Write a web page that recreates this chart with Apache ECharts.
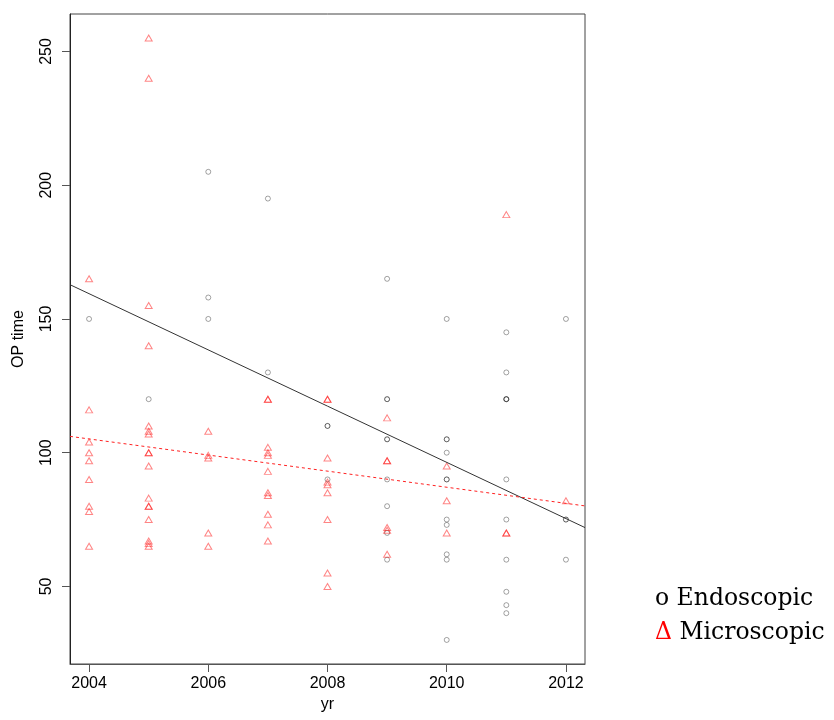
<!DOCTYPE html>
<html>
<head>
<meta charset="utf-8">
<script src="https://cdn.jsdelivr.net/npm/echarts@6/dist/echarts.min.js"></script>
<style>
  html, body { margin: 0; padding: 0; background: #fff; }
  #main { width: 834px; height: 720px; }
</style>
</head>
<body>
<div id="main"></div>
<script>
// 数据：年份 + 手术时间
var endoscopic = [
    [2004, 150],
    [2005, 120],
    [2006, 205], [2006, 158], [2006, 150],
    [2007, 195], [2007, 130],
    [2008, 110], [2008, 110], [2008, 90],
    [2009, 165], [2009, 120], [2009, 120], [2009, 105], [2009, 105], [2009, 90], [2009, 80], [2009, 70], [2009, 60],
    [2010, 150], [2010, 105], [2010, 105], [2010, 100], [2010, 90], [2010, 90], [2010, 75], [2010, 73], [2010, 62], [2010, 60], [2010, 30],
    [2011, 145], [2011, 130], [2011, 120], [2011, 120], [2011, 120], [2011, 90], [2011, 75], [2011, 60], [2011, 48], [2011, 43], [2011, 40],
    [2012, 150], [2012, 75], [2012, 75], [2012, 60]
];
var microscopic = [
    [2004, 165], [2004, 116], [2004, 104], [2004, 100], [2004, 97], [2004, 90], [2004, 80], [2004, 78], [2004, 65],
    [2005, 255], [2005, 240], [2005, 155], [2005, 140], [2005, 110], [2005, 108], [2005, 107], [2005, 100], [2005, 100],
    [2005, 95], [2005, 83], [2005, 80], [2005, 80], [2005, 75], [2005, 67], [2005, 66], [2005, 65],
    [2006, 108], [2006, 99], [2006, 98], [2006, 70], [2006, 65],
    [2007, 120], [2007, 120], [2007, 102], [2007, 100], [2007, 99], [2007, 93], [2007, 85], [2007, 84], [2007, 77], [2007, 73], [2007, 67],
    [2008, 120], [2008, 120], [2008, 98], [2008, 89], [2008, 88], [2008, 85], [2008, 75], [2008, 55], [2008, 50],
    [2009, 113], [2009, 97], [2009, 97], [2009, 72], [2009, 71], [2009, 62],
    [2010, 95], [2010, 82], [2010, 70],
    [2011, 189], [2011, 70], [2011, 70],
    [2012, 82]
];
// 回归线两端
var endoFit = [[2003.68, 162.8], [2012.32, 72.0]];
var microFit = [[2003.68, 106.1], [2012.32, 80.1]];

var yearTicks = [2004, 2006, 2008, 2010, 2012];
var timeTicks = [50, 100, 150, 200, 250];

var myChart = echarts.init(document.getElementById('main'));
myChart.setOption({
    animation: false,
    grid: {
        left: 70, right: 249, top: 14, bottom: 56,
        show: true,
        borderColor: '#444',
        borderWidth: 1
    },
    xAxis: {
        type: 'value',
        min: 2003.68,
        max: 2012.32,
        name: 'yr',
        nameLocation: 'middle',
        nameGap: 28,
        nameTextStyle: { fontSize: 16, color: '#000', fontFamily: 'Liberation Sans' },
        axisLine: { show: true, lineStyle: { color: '#555' } },
        axisTick: { show: true, length: 8, customValues: yearTicks, lineStyle: { color: '#555' } },
        axisLabel: {
            customValues: yearTicks,
            margin: 12,
            fontSize: 16,
            color: '#000',
            fontFamily: 'Liberation Sans',
            formatter: function (v) { return String(v); }
        },
        splitLine: { show: false }
    },
    yAxis: {
        type: 'value',
        min: 21,
        max: 264,
        name: 'OP time',
        nameLocation: 'middle',
        nameRotate: 90,
        nameGap: 43,
        nameTextStyle: { fontSize: 16, color: '#000', fontFamily: 'Liberation Sans' },
        axisLine: { show: true, lineStyle: { color: '#222' } },
        axisTick: { show: true, length: 8, customValues: timeTicks, lineStyle: { color: '#555' } },
        axisLabel: {
            customValues: timeTicks,
            rotate: 90,
            margin: 15,
            fontSize: 16,
            color: '#000',
            fontFamily: 'Liberation Sans'
        },
        splitLine: { show: false }
    },
    series: [
        {
            type: 'scatter',
            data: endoscopic,
            symbol: 'circle',
            symbolSize: 5,
            itemStyle: { color: 'rgba(0,0,0,0)', borderColor: 'rgba(0,0,0,0.45)', borderWidth: 1 }
        },
        {
            type: 'scatter',
            data: microscopic,
            symbol: 'triangle',
            symbolSize: [7, 6],
            itemStyle: { color: 'rgba(0,0,0,0)', borderColor: 'rgba(255,0,0,0.6)', borderWidth: 1 }
        },
        {
            type: 'line',
            data: endoFit,
            showSymbol: false,
            symbol: 'none',
            lineStyle: { color: '#333', width: 1 }
        },
        {
            type: 'line',
            data: microFit,
            showSymbol: false,
            symbol: 'none',
            lineStyle: { color: '#ff2020', width: 1, type: [3, 3] }
        }
    ],
    graphic: [
        {
            type: 'text',
            x: 655, y: 599,
            style: {
                text: 'o Endoscopic',
                font: '23.5px "DejaVu Serif"',
                fill: '#000',
                verticalAlign: 'middle'
            }
        },
        {
            type: 'text',
            x: 655, y: 633,
            style: {
                text: '{r|Δ} Microscopic',
                font: '23.5px "DejaVu Serif"',
                fill: '#000',
                verticalAlign: 'middle',
                rich: { r: { fill: '#ff0000', font: '23.5px "DejaVu Serif"' } }
            }
        }
    ]
});
</script>
</body>
</html>
